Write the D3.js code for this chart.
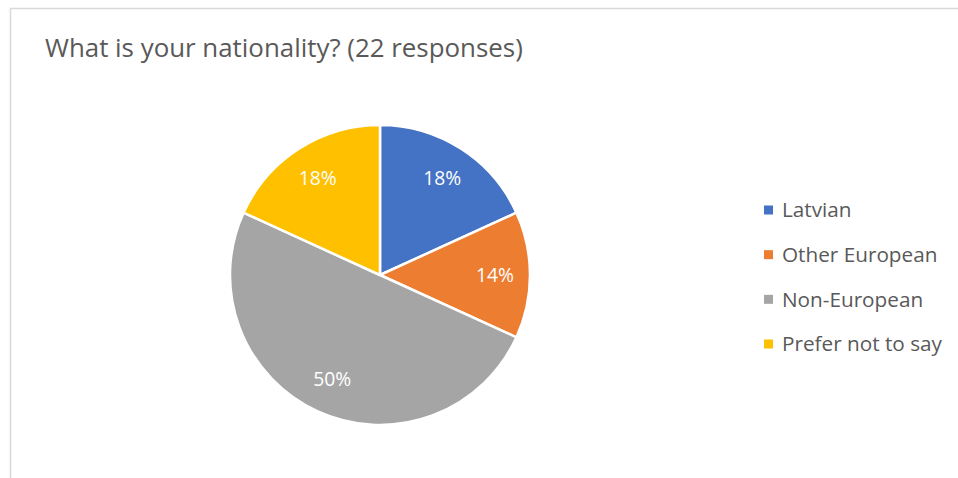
<!DOCTYPE html>
<html><head><meta charset="utf-8">
<script src="https://cdn.jsdelivr.net/npm/d3@7"></script>
<style>html,body{margin:0;padding:0;background:#fff;}svg{display:block;}</style>
</head><body>
<svg id="chart" width="958" height="478"></svg>
<script>
const categories = ["Latvian", "Other European", "Non-European", "Prefer not to say"];
const counts = [4, 3, 11, 4];
const colors = ["#4472C4", "#ED7D31", "#A5A5A5", "#FFC000"];
const title = "What is your nationality? (22 responses)";

const svg = d3.select("#chart");
const font = "'Open Sans', sans-serif";

function fitWidth(sel, target) {
  const w = sel.node().getComputedTextLength();
  const fs = parseFloat(sel.attr("font-size"));
  return fs * target / w;
}

// chart area border (top and left edges visible)
svg.append("path")
  .attr("d", "M10.5,478 L10.5,8.5 L958,8.5")
  .attr("fill", "none").attr("stroke", "#d9d9d9").attr("stroke-width", 1.5);

// title
const t = svg.append("text")
  .attr("x", 45).attr("y", 57)
  .attr("font-family", font).attr("font-size", 24)
  .attr("fill", "#595959").text(title);
t.attr("font-size", fitWidth(t, 478));

const cx = 380, cy = 275, R = 150;
const total = d3.sum(counts);
const pie = d3.pie().sort(null).value(d => d);
const arcs = pie(counts);
const arc = d3.arc().innerRadius(0).outerRadius(R);
const labelArc = d3.arc().innerRadius(115).outerRadius(115);

const g = svg.append("g").attr("transform", `translate(${cx},${cy})`);
g.selectAll("path.slice").data(arcs).enter().append("path")
  .attr("class", "slice")
  .attr("d", arc)
  .attr("fill", (d, i) => colors[i])
  .attr("stroke", "#fff").attr("stroke-width", 2.5).attr("stroke-linejoin", "round");

const labels = g.selectAll("text.lbl").data(arcs).enter().append("text")
  .attr("class", "lbl")
  .attr("transform", d => `translate(${labelArc.centroid(d)})`)
  .attr("text-anchor", "middle").attr("dy", "0.35em")
  .attr("font-family", font).attr("font-size", 19)
  .attr("fill", "#fff")
  .text(d => Math.round(d.data / total * 100) + "%");
const lblSize = fitWidth(d3.select(labels.nodes()[0]), 38);
labels.attr("font-size", lblSize);

// legend
const ly = d3.scalePoint().domain(categories).range([210, 344]);
const lg = svg.append("g");
const items = lg.selectAll("g").data(categories).enter().append("g")
  .attr("transform", d => `translate(0,${ly(d)})`);
items.append("rect").attr("x", 764).attr("y", -4.5).attr("width", 9).attr("height", 9)
  .attr("fill", (d, i) => colors[i]);
const ltexts = items.append("text").attr("x", 782).attr("dy", "0.36em")
  .attr("font-family", font).attr("font-size", 19).attr("fill", "#595959")
  .text(d => d);
const legSize = fitWidth(d3.select(ltexts.nodes()[3]), 160);
ltexts.attr("font-size", legSize);
</script>
</body></html>
